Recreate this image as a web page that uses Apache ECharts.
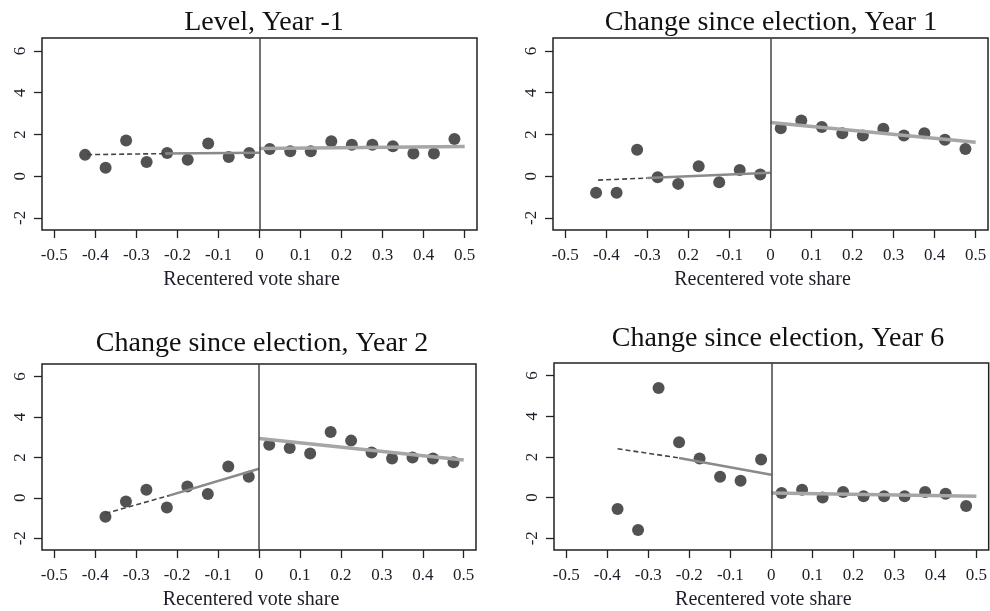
<!DOCTYPE html>
<html>
<head>
  <meta charset="utf-8">
  <title>Recentered vote share</title>
  <script src="https://cdn.jsdelivr.net/npm/echarts@6.0.0/dist/echarts.min.js"></script>
  <style>
    html, body { margin: 0; padding: 0; background: #fff; }
    #chart { width: 990px; height: 611px; }
  </style>
</head>
<body>
<div id="chart"></div>
<script>
// bin centres
var leftX9 = [-0.425, -0.375, -0.325, -0.275, -0.225, -0.175, -0.125, -0.075, -0.025];
var leftX8 = [-0.375, -0.325, -0.275, -0.225, -0.175, -0.125, -0.075, -0.025];
var rightX = [0.025, 0.075, 0.125, 0.175, 0.225, 0.275, 0.325, 0.375, 0.425, 0.475];

var titles = ["Level, Year -1", "Change since election, Year 1", "Change since election, Year 2", "Change since election, Year 6"];
var xName = "Recentered vote share";
var xTicks = [-0.5, -0.4, -0.3, -0.2, -0.1, 0, 0.1, 0.2, 0.3, 0.4, 0.5];
var xTickLabels = ["-0.5", "-0.4", "-0.3", "-0.2", "-0.1", "0", "0.1", "0.2", "0.3", "0.4", "0.5"];
// the Year 1 panel prints its -0.2 tick without the minus sign
var xTickLabelsYear1 = ["-0.5", "-0.4", "-0.3", "0.2", "-0.1", "0", "0.1", "0.2", "0.3", "0.4", "0.5"];
var yTicks = [-2, 0, 2, 4, 6];
var yTickLabels = ["-2", "0", "2", "4", "6"];

// bin means
var p1Left = [1.02, 0.40, 1.71, 0.68, 1.11, 0.79, 1.56, 0.92, 1.11];
var p1Right = [1.30, 1.19, 1.19, 1.67, 1.51, 1.51, 1.43, 1.08, 1.08, 1.78];
var p2Left = [-0.79, -0.79, 1.27, -0.05, -0.37, 0.48, -0.29, 0.29, 0.08];
var p2Right = [2.30, 2.67, 2.35, 2.06, 1.95, 2.27, 1.95, 2.06, 1.75, 1.30];
var p3Left = [-0.93, -0.18, 0.40, -0.48, 0.56, 0.19, 1.55, 1.04];
var p3Right = [2.62, 2.46, 2.19, 3.26, 2.83, 2.24, 1.95, 2.00, 1.95, 1.76];
var p4Left = [-0.56, -1.60, 5.39, 2.72, 1.92, 1.02, 0.83, 1.87];
var p4Right = [0.22, 0.38, 0.00, 0.27, 0.06, 0.06, 0.06, 0.27, 0.19, -0.42];

// fitted lines: dashed part, solid part (left of cutoff), right of cutoff
var p1FitDash = [[-0.42, 1.03], [-0.23, 1.08]];
var p1FitSolid = [[-0.23, 1.08], [0, 1.12]];
var p1FitRight = [[0, 1.32], [0.5, 1.42]];
var p2FitDash = [[-0.42, -0.19], [-0.30, -0.09]];
var p2FitSolid = [[-0.30, -0.09], [0, 0.16]];
var p2FitRight = [[0, 2.57], [0.5, 1.62]];
var p3FitDash = [[-0.375, -0.77], [-0.22, 0.11]];
var p3FitSolid = [[-0.22, 0.11], [0, 1.44]];
var p3FitRight = [[0, 2.94], [0.5, 1.87]];
var p4FitDash = [[-0.375, 2.40], [-0.225, 1.95]];
var p4FitSolid = [[-0.225, 1.95], [0, 1.12]];
var p4FitRight = [[0, 0.22], [0.5, 0.06]];

var panels = [
    {left: leftX9, lv: p1Left, rv: p1Right, dash: p1FitDash, solid: p1FitSolid, right: p1FitRight, labels: xTickLabels,
     grid: {left: 42, top: 38, width: 435, height: 192}, tx: 259, ty: 4},
    {left: leftX9, lv: p2Left, rv: p2Right, dash: p2FitDash, solid: p2FitSolid, right: p2FitRight, labels: xTickLabelsYear1,
     grid: {left: 553, top: 38, width: 435, height: 192}, tx: 766, ty: 4},
    {left: leftX8, lv: p3Left, rv: p3Right, dash: p3FitDash, solid: p3FitSolid, right: p3FitRight, labels: xTickLabels,
     grid: {left: 42, top: 364, width: 434, height: 193}, tx: 257, ty: 325},
    {left: leftX8, lv: p4Left, rv: p4Right, dash: p4FitDash, solid: p4FitSolid, right: p4FitRight, labels: xTickLabels,
     grid: {left: 554, top: 363, width: 435, height: 194}, tx: 773, ty: 320}
];

var serif = "Liberation Serif";
var ink = "#1e1e2a";

function pairs(xs, ys) {
    return xs.map(function(x, i) { return [x, ys[i]]; });
}

var option = {
    animation: false,
    backgroundColor: "#fff",
    title: [],
    grid: [],
    xAxis: [],
    yAxis: [],
    series: []
};

panels.forEach(function(p, i) {
    option.title.push({
        text: titles[i],
        left: p.tx,
        top: p.ty,
        textAlign: "center",
        textStyle: {fontFamily: serif, fontSize: 28, fontWeight: "normal", color: "#111"}
    });
    option.grid.push({
        left: p.grid.left, top: p.grid.top, width: p.grid.width, height: p.grid.height,
        show: true, borderColor: "#222", borderWidth: 1.5, containLabel: false
    });
    option.xAxis.push({
        type: "value", gridIndex: i, min: -0.53, max: 0.53,
        name: xName, nameLocation: "middle", nameGap: 40,
        nameTextStyle: {fontFamily: serif, fontSize: 20, color: ink, padding: [0, 16, 0, 0]},
        axisLine: {show: false, onZero: false},
        splitLine: {show: false},
        axisTick: {show: true, length: 8, customValues: xTicks, lineStyle: {color: "#222", width: 1.3}},
        axisLabel: {
            customValues: xTicks, margin: 17,
            fontFamily: serif, fontSize: 17, color: ink,
            formatter: function(v) { return p.labels[xTicks.indexOf(v)]; }
        }
    });
    option.yAxis.push({
        type: "value", gridIndex: i, min: -2.58, max: 6.62,
        axisLine: {show: false, onZero: false},
        splitLine: {show: false},
        axisTick: {show: true, length: 8, customValues: yTicks, lineStyle: {color: "#222", width: 1.3}},
        axisLabel: {
            customValues: yTicks, rotate: 90, margin: 13,
            fontFamily: serif, fontSize: 17, color: ink,
            formatter: function(v) { return yTickLabels[yTicks.indexOf(v)]; }
        }
    });
    option.series.push({
        type: "scatter", xAxisIndex: i, yAxisIndex: i,
        data: pairs(p.left, p.lv).concat(pairs(rightX, p.rv)),
        symbol: "circle", symbolSize: 12,
        itemStyle: {color: "#525252", opacity: 1},
        z: 2,
        markLine: {
            silent: true, symbol: "none", label: {show: false},
            lineStyle: {color: "#444", type: "solid", width: 1.5},
            data: [{xAxis: 0}]
        }
    });
    option.series.push({
        type: "line", xAxisIndex: i, yAxisIndex: i, data: p.dash,
        showSymbol: false, z: 3,
        lineStyle: {color: "#444", width: 1.6, type: [5, 3]}
    });
    option.series.push({
        type: "line", xAxisIndex: i, yAxisIndex: i, data: p.solid,
        showSymbol: false, z: 3,
        lineStyle: {color: "#8a8a8a", width: 2.5}
    });
    option.series.push({
        type: "line", xAxisIndex: i, yAxisIndex: i, data: p.right,
        showSymbol: false, z: 3,
        lineStyle: {color: "#a6a6a6", width: 3.5}
    });
});

var myChart = echarts.init(document.getElementById("chart"));
myChart.setOption(option);
</script>
</body>
</html>
